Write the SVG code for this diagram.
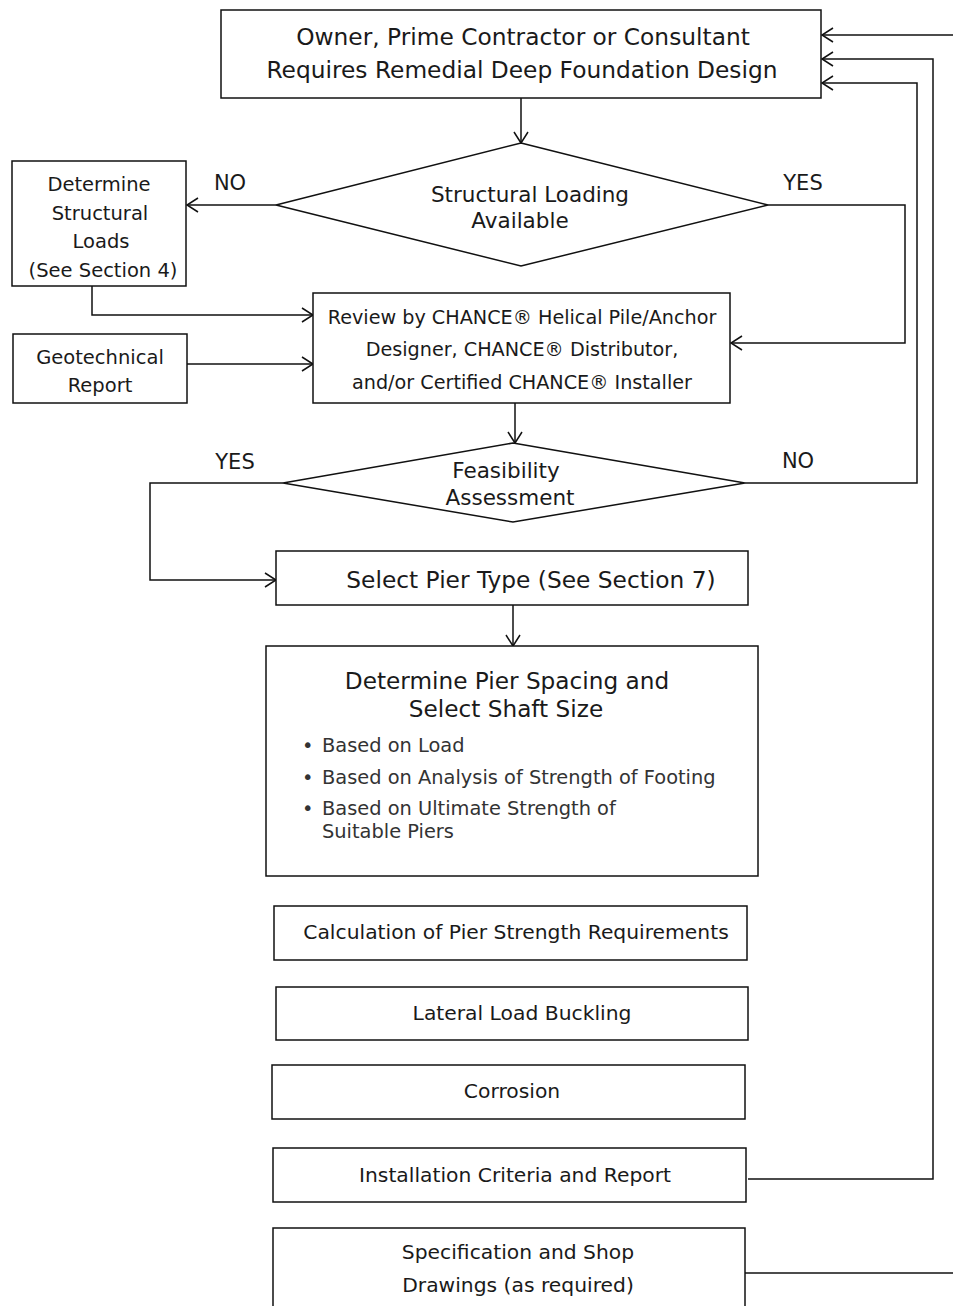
<svg xmlns="http://www.w3.org/2000/svg" width="953" height="1306" viewBox="0 0 953 1306">
<defs>
<marker id="arr" markerUnits="userSpaceOnUse" markerWidth="14" markerHeight="16" refX="12" refY="8" orient="auto">
<path d="M1,1 L12,8 L1,15" fill="none" stroke="#111" stroke-width="1.5"/>
</marker>
</defs>
<style>
.box{fill:#fff;stroke:#111;stroke-width:1.5}
.ln{fill:none;stroke:#111;stroke-width:1.5}
.t{font-family:"DejaVu Sans","Liberation Sans",sans-serif;fill:#1a1a1a;text-anchor:middle}
.b{font-family:"DejaVu Sans","Liberation Sans",sans-serif;fill:#333}
</style>
<rect width="953" height="1306" fill="#fff"/>
<g id="connectors">
<path class="ln" d="M521,98 V143" marker-end="url(#arr)"/>
<path class="ln" d="M276,205 H187" marker-end="url(#arr)"/>
<path class="ln" d="M768,205 H905 V343 H731" marker-end="url(#arr)"/>
<path class="ln" d="M92,286 V315 H313" marker-end="url(#arr)"/>
<path class="ln" d="M187,364 H313" marker-end="url(#arr)"/>
<path class="ln" d="M515,403 V443" marker-end="url(#arr)"/>
<path class="ln" d="M283,483 H150 V580 H276" marker-end="url(#arr)"/>
<path class="ln" d="M745,483 H917 V83 H822" marker-end="url(#arr)"/>
<path class="ln" d="M513,605 V646" marker-end="url(#arr)"/>
<path class="ln" d="M748,1179 H933 V59 H822" marker-end="url(#arr)"/>
<path class="ln" d="M953,35 H822" marker-end="url(#arr)"/>
<path class="ln" d="M745,1273 H953"/>
<text class="t" x="230" y="190" font-size="21">NO</text>
<text class="t" x="803" y="190" font-size="21">YES</text>
<text class="t" x="235" y="469" font-size="21">YES</text>
<text class="t" x="798" y="468" font-size="21">NO</text>
</g>
<g id="owner">
<rect class="box" x="221" y="10" width="600" height="88"/>
<text class="t" x="523" y="45" font-size="23.3">Owner, Prime Contractor or Consultant</text>
<text class="t" x="522" y="78" font-size="23.3">Requires Remedial Deep Foundation Design</text>
</g>
<g id="structural-loading">
<polygon class="box" points="521,143 768,205 521,266 276,205"/>
<text class="t" x="530" y="202" font-size="21.5">Structural Loading</text>
<text class="t" x="520" y="228" font-size="21.5">Available</text>
</g>
<g id="determine-loads">
<rect class="box" x="12" y="161" width="174" height="125"/>
<text class="t" x="99" y="191" font-size="19.5">Determine</text>
<text class="t" x="100" y="220" font-size="19.5">Structural</text>
<text class="t" x="101" y="248" font-size="19.5">Loads</text>
<text class="t" x="103" y="277" font-size="19.5">(See Section 4)</text>
</g>
<g id="geotechnical">
<rect class="box" x="13" y="334" width="174" height="69"/>
<text class="t" x="100" y="364" font-size="19.5">Geotechnical</text>
<text class="t" x="100" y="392" font-size="19.5">Report</text>
</g>
<g id="review">
<rect class="box" x="313" y="293" width="417" height="110"/>
<text class="t" x="522" y="324" font-size="19.2">Review by CHANCE® Helical Pile/Anchor</text>
<text class="t" x="522" y="356" font-size="19.2">Designer, CHANCE® Distributor,</text>
<text class="t" x="522" y="389" font-size="19.2">and/or Certified CHANCE® Installer</text>
</g>
<g id="feasibility">
<polygon class="box" points="513,443 745,483 513,522 283,483"/>
<text class="t" x="506" y="478" font-size="21.5">Feasibility</text>
<text class="t" x="510" y="505" font-size="21.5">Assessment</text>
</g>
<g id="select-pier">
<rect class="box" x="276" y="551" width="472" height="54"/>
<text class="t" x="531" y="588" font-size="23.3">Select Pier Type (See Section 7)</text>
</g>
<g id="pier-spacing">
<rect class="box" x="266" y="646" width="492" height="230"/>
<text class="t" x="507" y="689" font-size="23.2">Determine Pier Spacing and</text>
<text class="t" x="506" y="717" font-size="23.2">Select Shaft Size</text>
<text class="b" x="302" y="752" font-size="19.4">•</text>
<text class="b" x="322" y="752" font-size="19.4">Based on Load</text>
<text class="b" x="302" y="784" font-size="19.4">•</text>
<text class="b" x="322" y="784" font-size="19.4">Based on Analysis of Strength of Footing</text>
<text class="b" x="302" y="815" font-size="19.4">•</text>
<text class="b" x="322" y="815" font-size="19.4">Based on Ultimate Strength of</text>
<text class="b" x="322" y="838" font-size="19.4">Suitable Piers</text>
</g>
<g id="calculation">
<rect class="box" x="274" y="906" width="473" height="54"/>
<text class="t" x="516" y="939" font-size="20.3">Calculation of Pier Strength Requirements</text>
</g>
<g id="lateral">
<rect class="box" x="276" y="987" width="472" height="53"/>
<text class="t" x="522" y="1020" font-size="20.3">Lateral Load Buckling</text>
</g>
<g id="corrosion">
<rect class="box" x="272" y="1065" width="473" height="54"/>
<text class="t" x="512" y="1098" font-size="20.3">Corrosion</text>
</g>
<g id="installation">
<rect class="box" x="273" y="1148" width="473" height="54"/>
<text class="t" x="515" y="1182" font-size="20.3">Installation Criteria and Report</text>
</g>
<g id="specification">
<rect class="box" x="273" y="1228" width="472" height="90"/>
<text class="t" x="518" y="1259" font-size="20.3">Specification and Shop</text>
<text class="t" x="518" y="1292" font-size="20.3">Drawings (as required)</text>
</g>
</svg>
